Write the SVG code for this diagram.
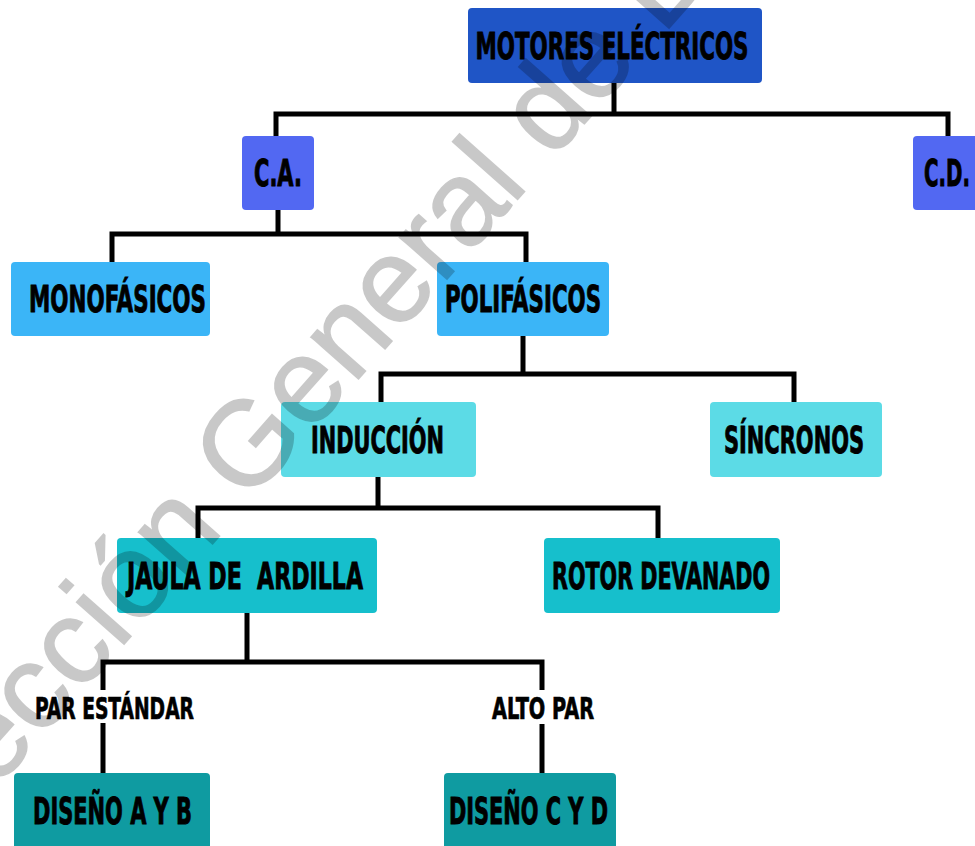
<svg xmlns="http://www.w3.org/2000/svg" width="975" height="846" viewBox="0 0 975 846">
  <style>
    .t { font-family: "DejaVu Sans", "Liberation Sans", sans-serif; font-stretch: condensed; font-weight: bold; font-size: 37px; fill: #000; stroke: #000; stroke-width: 0.9px; text-anchor: middle; }
    .lbl { font-family: "DejaVu Sans", "Liberation Sans", sans-serif; font-stretch: condensed; font-weight: bold; font-size: 30px; fill: #000; stroke: #000; stroke-width: 0.7px; text-anchor: middle; }
    .c1 { fill: #1f55c6; }
    .c2 { fill: #5268f2; }
    .c3 { fill: #3bb5f7; }
    .c4 { fill: #5cdbe6; }
    .c5 { fill: #16bfcc; }
    .c6 { fill: #0f9ba1; }
    .wm { font-family: "Liberation Sans", Arial, sans-serif; font-size: 120px; fill: #000; stroke: #000; stroke-width: 1.5px; opacity: 0.21; }
  </style>
  <rect width="975" height="846" fill="#ffffff"/>
  <g id="connectors" fill="none" stroke="#000" stroke-width="5" stroke-linejoin="miter">
    <path d="M276,136 V114 H948 V136 M614,83 V114"/>
    <path d="M112,262 V234 H526 V262 M278,210 V234"/>
    <path d="M381,402 V374 H794 V402 M523,336 V374"/>
    <path d="M198,538 V508 H658 V538 M378,477 V508"/>
    <path d="M103,690 V662 H542 V690 M247,613 V662 M103,723 V773 M542,724 V773"/>
  </g>
  <g id="n_motores"><rect class="c1" x="468" y="8" width="294" height="75" rx="4"/><text class="t" x="612" y="59" textLength="273" lengthAdjust="spacingAndGlyphs">MOTORES ELÉCTRICOS</text></g>
  <g id="n_ca"><rect class="c2" x="242" y="136" width="72" height="74" rx="4"/><text class="t" x="278" y="186" textLength="48" lengthAdjust="spacingAndGlyphs">C.A.</text></g>
  <g id="n_cd"><rect class="c2" x="913" y="136" width="75" height="74" rx="4"/><text class="t" x="947" y="186" textLength="46" lengthAdjust="spacingAndGlyphs">C.D.</text></g>
  <g id="n_mono"><rect class="c3" x="11" y="262" width="199" height="74" rx="4"/><text class="t" x="117.5" y="312" textLength="177" lengthAdjust="spacingAndGlyphs">MONOFÁSICOS</text></g>
  <g id="n_poli"><rect class="c3" x="437" y="262" width="172" height="74" rx="4"/><text class="t" x="523" y="312" textLength="156" lengthAdjust="spacingAndGlyphs">POLIFÁSICOS</text></g>
  <g id="n_ind"><rect class="c4" x="281" y="402" width="195" height="75" rx="4"/><text class="t" x="377.5" y="453" textLength="133" lengthAdjust="spacingAndGlyphs">INDUCCIÓN</text></g>
  <g id="n_sin"><rect class="c4" x="710" y="402" width="172" height="75" rx="4"/><text class="t" x="794" y="453" textLength="140" lengthAdjust="spacingAndGlyphs">SÍNCRONOS</text></g>
  <g id="n_jaula"><rect class="c5" x="117" y="538" width="260" height="75" rx="4"/><text class="t" x="245" y="589" textLength="236" lengthAdjust="spacingAndGlyphs" xml:space="preserve">JAULA DE  ARDILLA</text></g>
  <g id="n_rotor"><rect class="c5" x="544" y="538" width="236" height="75" rx="4"/><text class="t" x="661" y="589" textLength="218" lengthAdjust="spacingAndGlyphs">ROTOR DEVANADO</text></g>
  <g id="l_par"><text class="lbl" x="114.5" y="719" textLength="159" lengthAdjust="spacingAndGlyphs">PAR ESTÁNDAR</text></g>
  <g id="l_alto"><text class="lbl" x="543" y="719" textLength="102" lengthAdjust="spacingAndGlyphs">ALTO PAR</text></g>
  <g id="n_disab"><rect class="c6" x="14" y="773" width="196" height="80" rx="4"/><text class="t" x="112.5" y="824" textLength="159" lengthAdjust="spacingAndGlyphs">DISEÑO A Y B</text></g>
  <g id="n_discd"><rect class="c6" x="444" y="773" width="172" height="80" rx="4"/><text class="t" x="528.5" y="824" textLength="159" lengthAdjust="spacingAndGlyphs">DISEÑO C Y D</text></g>
  <g id="watermark"><text class="wm" transform="translate(-5,790) rotate(-48.5)">ección General de B</text></g>
</svg>
